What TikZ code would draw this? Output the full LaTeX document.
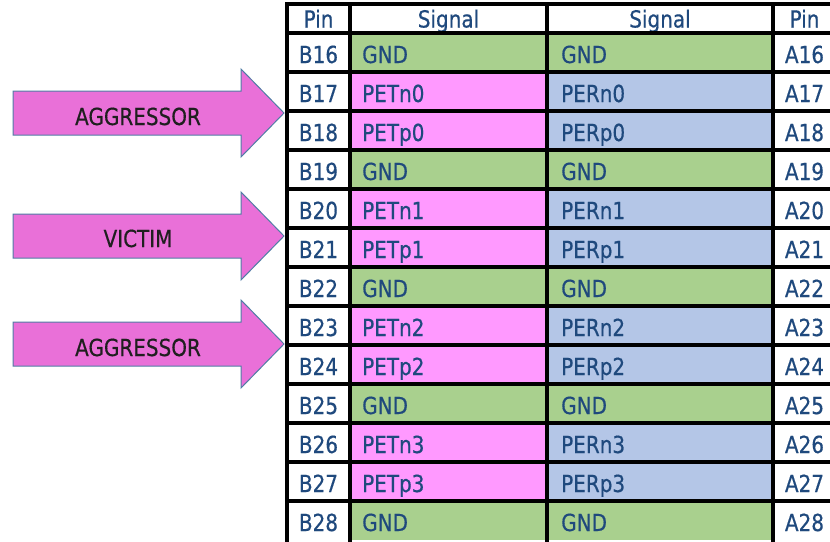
\documentclass[tikz,border=0pt]{standalone}
\usepackage{fontspec}
\setmainfont{DejaVu Sans}[FakeStretch=0.85,FakeBold=0.5]
\definecolor{gndgreen}{RGB}{169,208,142}
\definecolor{txpink}{RGB}{255,153,255}
\definecolor{rxblue}{RGB}{180,198,231}
\definecolor{celltext}{RGB}{31,73,125}
\definecolor{arrowfill}{RGB}{233,112,216}
\definecolor{arrowedge}{RGB}{80,125,165}
\begin{document}
\begin{tikzpicture}[x=1pt,y=-1pt,
  celltxt/.style={text=celltext,font=\fontsize{23.5}{25}\selectfont,inner sep=0pt},
  arrtxt/.style={text=black!88,font=\fontsize{23.5}{25}\selectfont,inner sep=0pt,anchor=base},
  bigarrow/.style={fill=arrowfill,draw=arrowedge,line width=1pt,line join=miter},
  grid/.style={line width=3.5pt,black}]
\useasboundingbox (0,0) rectangle (830,541);
\clip (0,0) rectangle (830,541);
\fill[white] (0,0) rectangle (830,541);

% column borders
\def\xa{287}\def\xb{350}\def\xc{547}\def\xd{773}\def\xe{836}

% cell fills and texts
\foreach \i/\bp/\ls/\rs/\ap/\lc/\rc in {
  0/B16/GND/GND/A16/gndgreen/gndgreen,
  1/B17/PETn0/PERn0/A17/txpink/rxblue,
  2/B18/PETp0/PERp0/A18/txpink/rxblue,
  3/B19/GND/GND/A19/gndgreen/gndgreen,
  4/B20/PETn1/PERn1/A20/txpink/rxblue,
  5/B21/PETp1/PERp1/A21/txpink/rxblue,
  6/B22/GND/GND/A22/gndgreen/gndgreen,
  7/B23/PETn2/PERn2/A23/txpink/rxblue,
  8/B24/PETp2/PERp2/A24/txpink/rxblue,
  9/B25/GND/GND/A25/gndgreen/gndgreen,
  10/B26/PETn3/PERn3/A26/txpink/rxblue,
  11/B27/PETp3/PERp3/A27/txpink/rxblue,
  12/B28/GND/GND/A28/gndgreen/gndgreen}{
  \pgfmathsetmacro{\yt}{33+39*\i}
  \pgfmathsetmacro{\yb}{\yt+39}
  \pgfmathsetmacro{\ybase}{\yt+30}
  \fill[\lc] (\xb,\yt) rectangle (\xc,\yb);
  \fill[\rc] (\xc,\yt) rectangle (\xd,\yb);
  \node[celltxt,anchor=base] (bpin\i) at ({(\xa+\xb)/2},\ybase) {\bp};
  \node[celltxt,anchor=base west] (bsig\i) at (362,\ybase) {\ls};
  \node[celltxt,anchor=base west] (asig\i) at (561,\ybase) {\rs};
  \node[celltxt,anchor=base] (apin\i) at ({(\xd+\xe)/2},\ybase) {\ap};
}

% header
\node[celltxt,anchor=base] (hpinb) at ({(\xa+\xb)/2},27.5) {Pin};
\node[celltxt,anchor=base] (hsigb) at ({(\xb+\xc)/2},27.5) {Signal};
\node[celltxt,anchor=base] (hsiga) at ({(\xc+\xd)/2},27.5) {Signal};
\node[celltxt,anchor=base] (hpina) at ({(\xd+\xe)/2},27.5) {Pin};

% grid lines (the table runs on past the lower and right edges)
\draw[grid] (\xa,4) -- (\xe,4);
\foreach \k in {0,...,12}{
  \draw[grid] (\xa,{33+39*\k}) -- (\xe,{33+39*\k});
}
\foreach \x in {\xa,\xb,\xc,\xd,\xe}{
  \draw[grid] (\x,2.3) -- (\x,545);
}

% block arrows pointing at the lane pairs
\foreach \n/\yc/\lbl/\base in {agg1/113/AGGRESSOR/125, vic/236/VICTIM/247, agg2/344/AGGRESSOR/356}{
  \draw[bigarrow] (13,\yc-22) -- (241,\yc-22) -- (241,\yc-44) -- (284,\yc)
    -- (241,\yc+44) -- (241,\yc+22) -- (13,\yc+22) -- cycle;
  \node[arrtxt] (\n) at (138,\base) {\lbl};
}
\end{tikzpicture}
\end{document}
